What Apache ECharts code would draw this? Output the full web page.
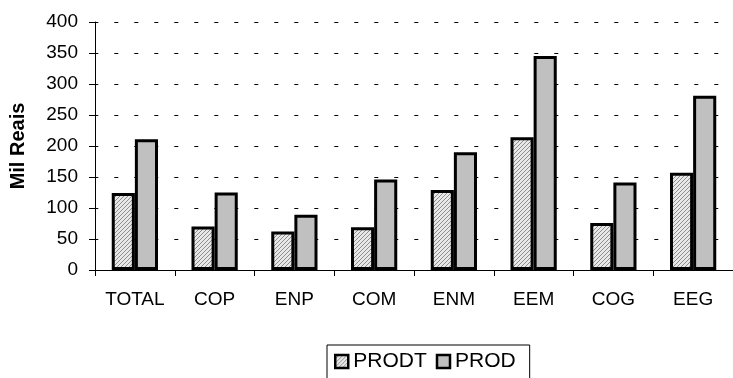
<!DOCTYPE html>
<html>
<head>
<meta charset="utf-8">
<script src="https://cdn.jsdelivr.net/npm/echarts@6/dist/echarts.min.js"></script>
<style>html,body{margin:0;padding:0;background:#fff;}#c{width:733px;height:378px;}</style>
</head>
<body>
<div id="c"></div>
<script>
var categories = ['TOTAL', 'COP', 'ENP', 'COM', 'ENM', 'EEM', 'COG', 'EEG'];
var prodt = [124, 70, 62, 69, 129, 214, 76, 157];
var prod = [211, 125, 89, 146, 190, 345, 141, 281];
var seriesNames = ['PRODT', 'PROD'];
var yTicks = [0, 50, 100, 150, 200, 250, 300, 350, 400];

function hatch() {
  var c = document.createElement('canvas');
  c.width = 4; c.height = 4;
  var g = c.getContext('2d');
  g.fillStyle = '#e8e8e8';
  g.fillRect(0, 0, 4, 4);
  g.strokeStyle = '#8c8c8c';
  g.lineWidth = 1;
  g.beginPath();
  g.moveTo(0, 4); g.lineTo(4, 0);
  g.moveTo(-1, 1); g.lineTo(1, -1);
  g.moveTo(3, 5); g.lineTo(5, 3);
  g.stroke();
  return c;
}
var hatchFill = { image: hatch(), repeat: 'repeat' };

var chart = echarts.init(document.getElementById('c'), null, { renderer: 'canvas' });
var font = 'Arial, "Liberation Sans", sans-serif';
chart.setOption({
  animation: false,
  backgroundColor: '#fff',
  textStyle: { fontFamily: font },
  grid: { left: 94, right: -11, top: 22, bottom: 108, containLabel: false },
  legend: {
    data: seriesNames,
    left: 327, top: 345,
    orient: 'horizontal',
    itemWidth: 13, itemHeight: 13, itemGap: 9,
    borderColor: '#000', borderWidth: 1,
    padding: [6, 14, 10, 7],
    textStyle: { fontSize: 21, color: '#000', fontFamily: font },
    itemStyle: { borderWidth: 2.5, borderColor: '#000' },
    icon: 'rect'
  },
  xAxis: {
    type: 'category',
    data: categories,
    axisLine: { lineStyle: { color: '#000', width: 1 } },
    axisTick: { show: true, length: 6, lineStyle: { color: '#000' } },
    axisLabel: { color: '#000', fontSize: 19, margin: 20, fontFamily: font },
    splitLine: { show: false }
  },
  yAxis: {
    type: 'value',
    min: 0, max: 400, interval: 50,
    name: 'Mil Reais',
    nameLocation: 'middle',
    nameGap: 67,
    nameTextStyle: { fontSize: 20, fontWeight: 'bold', color: '#000', fontFamily: font },
    axisLine: { show: true, lineStyle: { color: '#000', width: 1 } },
    axisTick: { show: true, length: 6, lineStyle: { color: '#000' } },
    axisLabel: { color: '#000', fontSize: 19, margin: 17, fontFamily: font,
      formatter: function (v) { return yTicks.indexOf(v) >= 0 ? String(v) : ''; } },
    splitLine: { show: true, lineStyle: { color: '#000', width: 1, type: [4, 16], dashOffset: 0.7 } }
  },
  series: [
    {
      name: seriesNames[0], type: 'bar', data: prodt,
      barWidth: '29%', barGap: '0%',
      itemStyle: { color: hatchFill, borderColor: '#000', borderWidth: 3 }
    },
    {
      name: seriesNames[1], type: 'bar', data: prod,
      barWidth: '29%', barGap: '0%',
      itemStyle: { color: '#c0c0c0', borderColor: '#000', borderWidth: 3 }
    }
  ]
});
</script>
</body>
</html>
